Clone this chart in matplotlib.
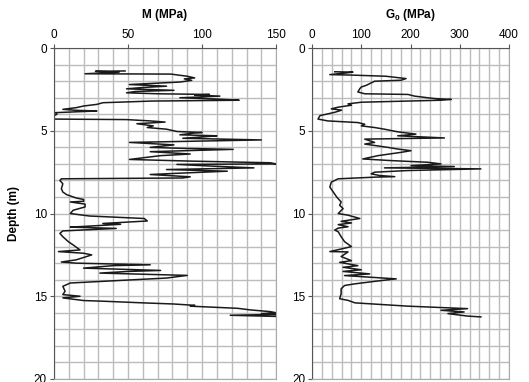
import numpy as np
import matplotlib
matplotlib.use("Agg")
import matplotlib.pyplot as plt
from matplotlib.ticker import MultipleLocator

plt.rcParams['font.family'] = ['Liberation Sans', 'DejaVu Sans']
plt.rcParams['mathtext.fontset'] = 'custom'
plt.rcParams['mathtext.bf'] = 'Liberation Sans:bold'
plt.rcParams['mathtext.rm'] = 'Liberation Sans'

# constrained modulus M profile (depth m, MPa)
m_depth = [1.38, 1.40, 1.45, 1.55, 1.57, 1.70, 1.80, 1.86, 1.95, 2.05, 2.20, 2.30, 2.38, 2.46, 2.55, 2.62, 2.70,
           2.76, 2.80, 2.84, 2.90, 2.95, 3.00, 3.08, 3.15, 3.20, 3.30, 3.40, 3.50, 3.60, 3.70, 3.76, 3.80, 3.90, 4.00, 4.08,
           4.29, 4.32, 4.40, 4.47, 4.57, 4.70, 4.80, 4.90, 5.04, 5.10, 5.14, 5.24, 5.30, 5.35, 5.45, 5.55, 5.70, 5.85,
           6.00, 6.06, 6.12, 6.26, 6.40, 6.50, 6.73, 6.83, 6.93, 7.00, 7.03, 7.13, 7.24, 7.34, 7.44, 7.54, 7.64, 7.78,
           7.85, 7.90, 8.00, 8.20, 8.50, 8.70, 8.86, 9.06, 9.15, 9.26, 9.30, 9.43, 9.60, 9.80, 10.00, 10.15, 10.30,
           10.45, 10.60, 10.65, 10.78, 10.82, 10.90, 11.05, 11.20, 11.40, 11.70, 11.90, 12.20, 12.30, 12.40, 12.50,
           12.60, 12.80, 12.93, 13.00, 13.10, 13.15, 13.30, 13.44, 13.50, 13.60, 13.74, 13.85, 13.90, 14.20, 14.40,
           14.70, 14.90, 15.00, 15.10, 15.26, 15.30, 15.40, 15.47, 15.55, 15.60, 15.73, 15.83, 15.93, 16.00, 16.05,
           16.10, 16.15, 16.22]
m_val = [48, 28, 44, 21, 79, 90, 95, 88, 93, 85, 51, 76, 60, 49, 81, 55, 49,
         70, 105, 95, 112, 100, 85, 110, 125, 66, 33, 29, 20, 15, 6, 15, 29, 1, 2, 0,
         0, 49, 65, 75, 56, 67, 63, 76, 83, 100, 94, 85, 110, 103, 87, 140, 51, 81,
         65, 87, 121, 65, 92, 72, 51, 92, 146, 150, 83, 106, 135, 76, 117, 90, 65, 92,
         87, 5, 4, 6, 5, 6, 8.6, 15, 20, 20, 11, 21, 21, 13, 11, 24, 61,
         63, 33, 45, 20, 11, 42, 6, 4, 6, 9.7, 13, 17.6, 3, 20, 25.5,
         22, 15, 5, 15, 65, 40, 20, 72, 50, 31, 90, 80, 76, 11, 6,
         7.5, 6, 17.6, 6, 20, 33, 60, 81, 95, 92, 124, 133, 146, 150, 140,
         150, 119, 150]

# shear modulus G0 profile (depth m, MPa)
g_depth = [1.43, 1.45, 1.50, 1.60, 1.63, 1.70, 1.84, 1.94, 2.00, 2.25, 2.35, 2.45, 2.65, 2.76, 2.80, 2.90, 3.00,
           3.05, 3.10, 3.15, 3.27, 3.37, 3.45, 3.57, 3.67, 3.75, 3.88, 4.08, 4.29, 4.40, 4.50, 4.60, 4.70, 4.80, 4.90,
           5.06, 5.20, 5.30, 5.43, 5.50, 5.70, 5.80, 6.00, 6.10, 6.20, 6.30, 6.50, 6.70, 6.80, 6.90, 7.00, 7.10,
           7.16, 7.24, 7.30, 7.40, 7.50, 7.60, 7.70, 7.77, 7.80, 7.90, 8.10, 8.40, 8.70, 9.00, 9.30, 9.50, 9.70,
           10.00, 10.10, 10.30, 10.47, 10.57, 10.67, 10.80, 10.88, 11.00, 11.10, 11.40, 11.70, 12.00, 12.30, 12.32,
           12.60, 12.85, 12.95, 13.15, 13.25, 13.40, 13.50, 13.65, 13.75, 13.95, 14.10, 14.25, 14.35, 14.55, 14.85,
           15.15, 15.25, 15.40, 15.60, 15.70, 15.75, 15.85, 15.95, 16.05, 16.20, 16.25]
g_val = [46, 83, 70, 36, 80, 150, 191, 181, 127, 110, 100, 97, 93, 107, 195, 208, 235,
         250, 283, 262, 100, 73, 80, 53, 39, 60, 46, 16, 12, 32, 93, 107, 100, 127, 147,
         174, 211, 174, 269, 107, 127, 107, 154, 174, 201, 181, 134, 103, 161, 235, 262, 201,
         289, 147, 343, 195, 127, 120, 137, 168, 127, 53, 39, 36, 43, 50, 59, 56, 63,
         53, 73, 97, 59, 80, 53, 73, 53, 46, 53, 59, 66, 80, 36, 73,
         59, 80, 56, 93, 63, 100, 63, 117, 66, 171, 127, 87, 66, 59, 59,
         56, 73, 87, 195, 276, 316, 262, 309, 276, 316, 343]

fig = plt.figure(figsize=(5.29, 3.82), dpi=100)
ax1 = fig.add_axes([0.102, 0.008, 0.420, 0.866])
ax2 = fig.add_axes([0.590, 0.008, 0.372, 0.866])

def style(ax, xmax, major, minor, title):
    ax.set_xlim(0, xmax)
    ax.set_ylim(20, 0)
    ax.xaxis.tick_top()
    ax.xaxis.set_label_position('top')
    ax.xaxis.set_major_locator(MultipleLocator(major))
    ax.xaxis.set_minor_locator(MultipleLocator(minor))
    ax.yaxis.set_major_locator(MultipleLocator(5))
    ax.yaxis.set_minor_locator(MultipleLocator(1))
    ax.grid(which='both', color='#bcbcbc', linewidth=1.0)
    ax.set_axisbelow(True)
    ax.tick_params(which='major', labelsize=8.5, length=3, color='#555555', pad=2)
    ax.tick_params(which='minor', length=0)
    for s in ax.spines.values():
        s.set_color('#aaaaaa')
    ax.spines['left'].set_color('#555555')
    ax.spines['top'].set_color('#555555')
    ax.set_xlabel(title, fontsize=8.5, fontweight='bold', labelpad=8)

ax1.plot(m_val, m_depth, color='#1a1a1a', linewidth=1.1)
style(ax1, 150, 50, 10, 'M (MPa)')
ax1.set_ylabel('Depth (m)', fontsize=8.5, fontweight='bold', labelpad=10)

ax2.plot(g_val, g_depth, color='#1a1a1a', linewidth=1.1)
style(ax2, 400, 100, 20, r'$\mathbf{G_0}$ (MPa)')

fig.savefig('out.png', dpi=100)
